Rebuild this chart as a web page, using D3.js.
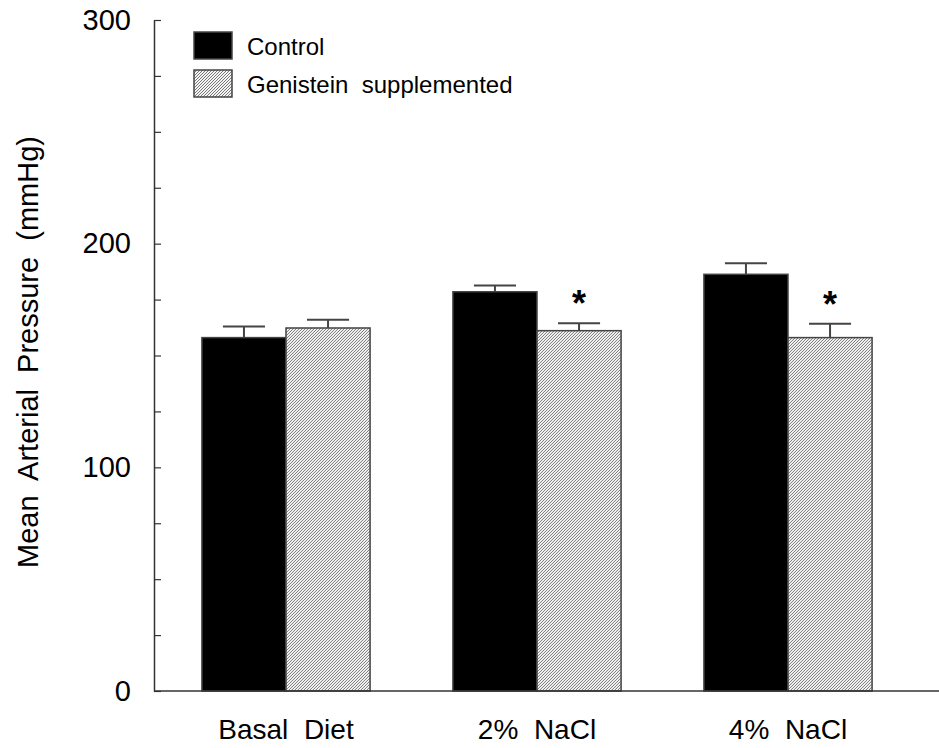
<!DOCTYPE html>
<html>
<head>
<meta charset="utf-8">
<script src="https://cdn.jsdelivr.net/npm/d3@7"></script>
<style>
  html, body { margin: 0; padding: 0; background: #fff; }
  svg { display: block; font-family: "Liberation Sans", Arial, sans-serif; }
</style>
</head>
<body>
<svg id="chart" width="939" height="748"></svg>
<script>
// Diet groups and the two treatment series (mean ± SE, mmHg)
const categories = ["Basal  Diet", "2%  NaCl", "4%  NaCl"];
const seriesNames = ["Control", "Genistein  supplemented"];
const controlMean = [158, 178.5, 186.3];
const controlSE = [5.0, 2.8, 4.9];
const genisteinMean = [162.3, 161.1, 158.0];
const genisteinSE = [3.7, 3.3, 6.2];
const genisteinSig = [false, true, true];
const yTicks = [0, 25, 50, 75, 100, 125, 150, 175, 200, 225, 250, 275, 300];
const yLabelled = [0, 100, 200, 300];

(function draw() {
  const svg = d3.select("#chart");
  const W = 939;
  const axisX = 154, plotTop = 20, plotBottom = 691;

  // fine diagonal hatching for the genistein bars
  const defs = svg.append("defs");
  const pat = defs.append("pattern")
    .attr("id", "hatch")
    .attr("patternUnits", "userSpaceOnUse")
    .attr("width", 3).attr("height", 3);
  pat.append("rect").attr("width", 3).attr("height", 3).attr("fill", "#f4f4f4");
  pat.append("path")
    .attr("d", "M-1,1 l2,-2 M0,3 l3,-3 M2,4 l2,-2")
    .attr("stroke", "#6a6a6a").attr("stroke-width", 0.9);

  const y = d3.scaleLinear().domain([0, 300]).range([plotBottom, plotTop]);
  const x = d3.scaleBand().domain(categories)
    .range([160.5, 913.5]).paddingInner(0.33).paddingOuter(0.165);
  const xs = d3.scaleBand().domain([0, 1]).range([0, x.bandwidth()]);

  const rows = categories.map((c, i) => ({
    cat: c,
    vals: [
      { s: 0, mean: controlMean[i], se: controlSE[i], sig: false },
      { s: 1, mean: genisteinMean[i], se: genisteinSE[i], sig: genisteinSig[i] }
    ]
  }));

  const groups = svg.append("g").selectAll("g").data(rows).join("g")
    .attr("transform", d => `translate(${x(d.cat)},0)`);

  // error bars (upper only), drawn before bars
  const eb = groups.selectAll("g.err").data(d => d.vals).join("g").attr("class", "err");
  eb.append("line")
    .attr("x1", d => xs(d.s) + xs.bandwidth() / 2)
    .attr("x2", d => xs(d.s) + xs.bandwidth() / 2)
    .attr("y1", d => y(d.mean)).attr("y2", d => y(d.mean + d.se))
    .attr("stroke", "#444").attr("stroke-width", 2);
  eb.append("line")
    .attr("x1", d => xs(d.s) + xs.bandwidth() / 4)
    .attr("x2", d => xs(d.s) + xs.bandwidth() * 3 / 4)
    .attr("y1", d => y(d.mean + d.se)).attr("y2", d => y(d.mean + d.se))
    .attr("stroke", "#444").attr("stroke-width", 2);

  groups.selectAll("rect").data(d => d.vals).join("rect")
    .attr("x", d => xs(d.s))
    .attr("width", xs.bandwidth())
    .attr("y", d => y(d.mean))
    .attr("height", d => y(0) - y(d.mean))
    .attr("fill", d => d.s === 0 ? "#000" : "url(#hatch)")
    .attr("stroke", "#444").attr("stroke-width", 1.5);

  // significance markers
  groups.selectAll("text.sig").data(d => d.vals.filter(v => v.sig)).join("text")
    .attr("class", "sig")
    .attr("x", d => xs(d.s) + xs.bandwidth() / 2)
    .attr("y", d => y(d.mean + d.se) - 7)
    .attr("text-anchor", "middle")
    .attr("font-size", 36).attr("font-weight", "bold")
    .text("*");

  // y axis with inward ticks
  const yAxis = d3.axisLeft(y).tickValues(yTicks)
    .tickSizeInner(-7).tickSizeOuter(0).tickPadding(23)
    .tickFormat(v => yLabelled.includes(v) ? v : "");
  const gy = svg.append("g").attr("transform", `translate(${axisX},0)`).call(yAxis);
  gy.select(".domain").attr("stroke", "#333").attr("stroke-width", 1.5);
  gy.selectAll(".tick line").attr("stroke", "#333").attr("stroke-width", 1.2);
  gy.selectAll(".tick text").attr("font-size", 29).attr("fill", "#000")
    .attr("font-family", "Liberation Sans, Arial, sans-serif");

  // baseline
  svg.append("line")
    .attr("x1", axisX).attr("x2", W)
    .attr("y1", y(0)).attr("y2", y(0))
    .attr("stroke", "#333").attr("stroke-width", 1.5);

  // category labels
  svg.append("g").selectAll("text").data(categories).join("text")
    .attr("x", d => x(d) + x.bandwidth() / 2)
    .attr("y", 739)
    .attr("text-anchor", "middle")
    .attr("font-size", 28)
    .style("white-space", "pre")
    .text(d => d);

  // y title
  svg.append("text")
    .attr("transform", "translate(38,352) rotate(-90)")
    .attr("text-anchor", "middle")
    .attr("font-size", 29)
    .style("white-space", "pre")
    .text("Mean  Arterial  Pressure  (mmHg)");

  // legend
  const lg = svg.append("g");
  const legendY = [32, 70];
  seriesNames.forEach((name, i) => {
    lg.append("rect")
      .attr("x", 194).attr("y", legendY[i])
      .attr("width", 38).attr("height", 27)
      .attr("fill", i === 0 ? "#000" : "url(#hatch)")
      .attr("stroke", "#444").attr("stroke-width", 1.5);
    lg.append("text")
      .attr("x", 247).attr("y", legendY[i] + 23)
      .attr("font-size", 24)
      .style("white-space", "pre")
      .text(name);
  });
})();
</script>
</body>
</html>
